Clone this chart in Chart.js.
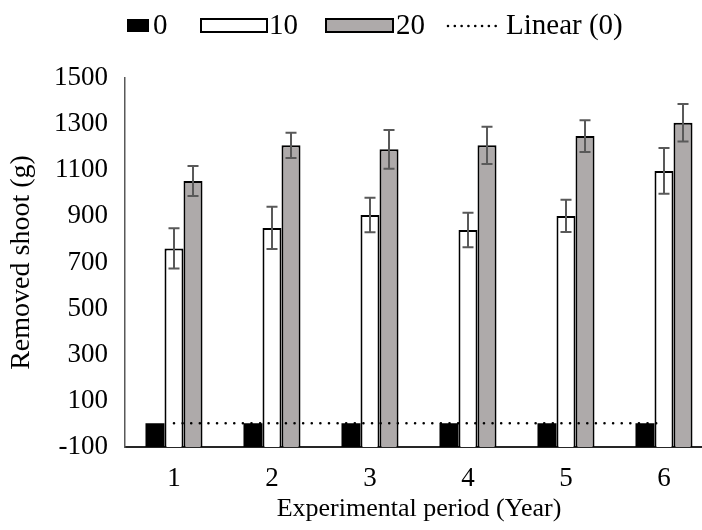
<!DOCTYPE html>
<html><head><meta charset="utf-8">
<script src="https://cdn.jsdelivr.net/npm/chart.js@4"></script>
<style>
html,body{margin:0;padding:0;background:#fff;overflow:hidden;}
#wrap{width:702px;height:530px;overflow:hidden;position:relative;background:#fff;}
canvas{position:absolute;left:0;top:0;}
</style></head><body>
<div id="wrap"><canvas id="c" width="720" height="530"></canvas></div>
<script>
const categories = ['1', '2', '3', '4', '5', '6'];
const series0 = [3, 3, 3, 3, 3, 3];
const series10 = [761, 850, 906, 841, 902, 1097];
const series20 = [1053, 1208, 1191, 1208, 1248, 1306];
const err10 = [87, 92, 75, 75, 70, 99];
const err20 = [65, 55, 84, 81, 69, 81];
const trend0 = [3, 3, 3, 3, 3, 3];
const yTicks = [-100, 100, 300, 500, 700, 900, 1100, 1300, 1500];
const seriesLabels = ['0', '10', '20', 'Linear (0)'];
const xTitle = 'Experimental period (Year)';
const yTitle = 'Removed shoot (g)';

const FONT = 'Liberation Serif';
const FS = 27;
Chart.defaults.font.family = FONT;
Chart.defaults.font.size = FS;
Chart.defaults.color = '#000';

const errorBars = {
  id: 'errorBars',
  afterDatasetsDraw(chart) {
    const ctx = chart.ctx, ys = chart.scales.y;
    chart.data.datasets.forEach((ds, i) => {
      if (!ds.errors) return;
      const meta = chart.getDatasetMeta(i);
      meta.data.forEach((bar, j) => {
        const v = ds.data[j], e = ds.errors[j];
        const yt = ys.getPixelForValue(v + e), yb = ys.getPixelForValue(v - e);
        const x = bar.x, hw = 5.5;
        ctx.save();
        ctx.strokeStyle = '#595959';
        ctx.lineWidth = 2;
        ctx.beginPath();
        ctx.moveTo(x, yt); ctx.lineTo(x, yb);
        ctx.moveTo(x - hw, yt); ctx.lineTo(x + hw, yt);
        ctx.moveTo(x - hw, yb); ctx.lineTo(x + hw, yb);
        ctx.stroke();
        ctx.restore();
      });
    });
  }
};

const customLegend = {
  id: 'customLegend',
  afterDraw(chart) {
    const ctx = chart.ctx;
    const ds = chart.data.datasets;
    ctx.save();
    ctx.font = '29px "' + FONT + '"';
    ctx.textBaseline = 'middle';
    ctx.fillStyle = '#000';
    const cy = 26, bt = 19, bh = 13;
    ctx.fillStyle = ds[0].backgroundColor;
    ctx.fillRect(127, bt, 22, bh);
    ctx.fillStyle = '#000';
    ctx.fillText(ds[0].label, 153, cy);
    ctx.fillStyle = ds[1].backgroundColor;
    ctx.fillRect(201, bt, 66, bh);
    ctx.strokeStyle = '#000'; ctx.lineWidth = 2;
    ctx.strokeRect(201, bt, 66, bh);
    ctx.fillStyle = '#000';
    ctx.fillText(ds[1].label, 269, cy);
    ctx.fillStyle = ds[2].backgroundColor;
    ctx.fillRect(326, bt, 67, bh);
    ctx.strokeRect(326, bt, 67, bh);
    ctx.fillStyle = '#000';
    ctx.fillText(ds[2].label, 396, cy);
    ctx.strokeStyle = '#000'; ctx.lineWidth = 2.6; ctx.lineCap = 'round';
    ctx.setLineDash([0.01, 6.8]);
    ctx.beginPath(); ctx.moveTo(448, cy); ctx.lineTo(497, cy); ctx.stroke();
    ctx.setLineDash([]);
    ctx.fillText(ds[3].label, 506, cy);
    ctx.restore();
  }
};

new Chart(document.getElementById('c'), {
  type: 'bar',
  data: {
    labels: categories,
    datasets: [
      { label: seriesLabels[0], data: series0, backgroundColor: '#000000', borderWidth: 0, base: -100, order: 1 },
      { label: seriesLabels[1], data: series10, errors: err10, backgroundColor: '#ffffff', borderColor: '#000000', borderWidth: 2, base: -100, order: 1 },
      { label: seriesLabels[2], data: series20, errors: err20, backgroundColor: '#AEAAAA', borderColor: '#000000', borderWidth: 2, base: -100, order: 1 },
      { type: 'line', label: seriesLabels[3], data: trend0, borderColor: '#000000', borderWidth: 2.6,
        borderDash: [0.01, 8.6], borderCapStyle: 'round', pointRadius: 0, fill: false, order: 0 }
    ]
  },
  options: {
    responsive: false,
    animation: false,
    events: [],
    categoryPercentage: 0.582,
    barPercentage: 1.0,
    layout: { padding: { top: 78, right: 7, left: 0, bottom: 0 } },
    plugins: { legend: { display: false }, tooltip: { enabled: false } },
    scales: {
      x: {
        grid: { display: false, drawTicks: false },
        border: { display: true, color: '#262626', width: 2 },
        ticks: { padding: 16 },
        title: { display: true, text: xTitle, font: { size: 26 }, padding: { top: 0, bottom: 5 } },
        afterFit: s => { s.height = 83; }
      },
      y: {
        min: -100, max: 1500,
        grid: { display: false, drawTicks: false },
        border: { display: true, color: '#595959', width: 1.5 },
        afterBuildTicks: s => { s.ticks = yTicks.map(v => ({ value: v })); },
        ticks: { padding: 17, callback: v => String(v) },
        title: { display: true, text: yTitle, font: { size: 28 }, padding: { top: 5, bottom: 0 } },
        afterFit: s => { s.width = 125; }
      }
    }
  },
  plugins: [errorBars, customLegend]
});
</script>
</body></html>
